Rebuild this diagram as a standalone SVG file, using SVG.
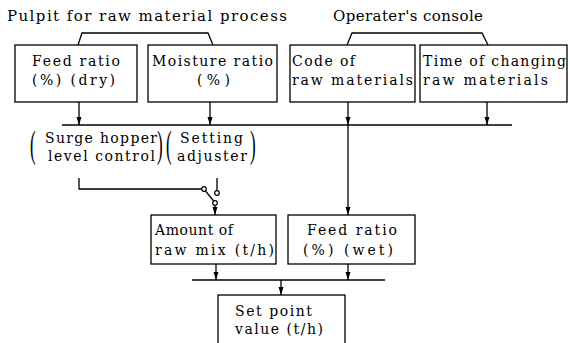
<svg xmlns="http://www.w3.org/2000/svg" width="570" height="343" viewBox="0 0 570 343">
<style>
  text { font-family: "DejaVu Serif", "Liberation Serif", serif; font-size: 14px; fill: #000; }
  .title { font-size: 15px; }
  .box { fill: #fff; stroke: #000; stroke-width: 1.3; }
  .ln { fill: none; stroke: #000; stroke-width: 1.3; }
  .bus { fill: none; stroke: #000; stroke-width: 1.6; }
  .sw { fill: #fff; stroke: #000; stroke-width: 1.2; }
  .paren { font-family: "Liberation Serif", serif; font-size: 38px; }
</style>
<defs>
  <marker id="ah" markerWidth="8" markerHeight="6" refX="8" refY="3" orient="auto" markerUnits="userSpaceOnUse" viewBox="0 0 8 6">
    <path d="M0,0.5 L8,3 L0,5.5 z" fill="#000"/>
  </marker>
</defs>

<g id="titles">
  <text class="title" x="7" y="21" textLength="280" lengthAdjust="spacing">Pulpit for raw material process</text>
  <text class="title" x="333" y="21" textLength="150" lengthAdjust="spacing">Operater's console</text>
</g>

<g id="node-feed-dry">
  <rect class="box" x="15" y="45" width="122" height="57"/>
  <text x="32" y="66" textLength="88" lengthAdjust="spacing">Feed ratio</text>
  <text x="32" y="85" textLength="83" lengthAdjust="spacing">(%) (dry)</text>
</g>
<g id="node-moisture">
  <rect class="box" x="148" y="45" width="129" height="57"/>
  <text x="152" y="66" textLength="121" lengthAdjust="spacing">Moisture ratio</text>
  <text x="197" y="85" textLength="33" lengthAdjust="spacing">(%)</text>
</g>
<g id="node-code">
  <rect class="box" x="290" y="45" width="125" height="57"/>
  <text x="292" y="66" textLength="63" lengthAdjust="spacing">Code of</text>
  <text x="292" y="85" textLength="121" lengthAdjust="spacing">raw materials</text>
</g>
<g id="node-time">
  <rect class="box" x="420" y="45" width="147" height="57"/>
  <text x="423" y="66" textLength="143" lengthAdjust="spacing">Time of changing</text>
  <text x="423" y="85" textLength="125" lengthAdjust="spacing">raw materials</text>
</g>

<g id="node-selector">
  <text class="paren" transform="translate(30,157) scale(0.45,1)">(</text>
  <text x="45" y="143" textLength="112" lengthAdjust="spacing">Surge hopper</text>
  <text x="48" y="161" textLength="107" lengthAdjust="spacing">level control</text>
  <text class="paren" transform="translate(157,157) scale(0.45,1)">)</text>
  <text class="paren" transform="translate(166,157) scale(0.45,1)">(</text>
  <text x="180" y="143" textLength="63" lengthAdjust="spacing">Setting</text>
  <text x="177" y="161" textLength="70" lengthAdjust="spacing">adjuster</text>
  <text class="paren" transform="translate(250,157) scale(0.45,1)">)</text>
</g>

<g id="node-amount">
  <rect class="box" x="151" y="215" width="125" height="49"/>
  <text x="155" y="235" textLength="78" lengthAdjust="spacing">Amount of</text>
  <text x="155" y="255" textLength="119" lengthAdjust="spacing">raw mix (t/h)</text>
</g>
<g id="node-feed-wet">
  <rect class="box" x="288" y="215" width="127" height="49"/>
  <text x="307" y="235" textLength="90" lengthAdjust="spacing">Feed ratio</text>
  <text x="303" y="255" textLength="90" lengthAdjust="spacing">(%) (wet)</text>
</g>
<g id="node-setpoint">
  <rect class="box" x="218" y="295" width="127" height="60"/>
  <text x="235" y="316" textLength="77" lengthAdjust="spacing">Set point</text>
  <text x="235" y="334" textLength="88" lengthAdjust="spacing">value (t/h)</text>
</g>

<g id="connectors">
  <polyline class="ln" points="78,45 82,33 208,33 213,45"/>
  <polyline class="ln" points="347,45 352,33 482,33 488,45"/>
  <line class="bus" x1="62" y1="125" x2="512" y2="125"/>
  <line class="ln" x1="79" y1="102" x2="79" y2="125" marker-end="url(#ah)"/>
  <line class="ln" x1="210" y1="102" x2="210" y2="125" marker-end="url(#ah)"/>
  <line class="ln" x1="348" y1="102" x2="348" y2="125" marker-end="url(#ah)"/>
  <line class="ln" x1="487" y1="102" x2="487" y2="125" marker-end="url(#ah)"/>
  <line class="ln" x1="348" y1="125" x2="348" y2="215" marker-end="url(#ah)"/>
  <polyline class="ln" points="79,178 79,189 201.7,189"/>
  <line class="ln" x1="217" y1="178" x2="217" y2="190.7"/>
  <line class="ln" x1="205.5" y1="191" x2="213.7" y2="201"/>
  <line class="ln" x1="215" y1="205.3" x2="215" y2="215" marker-end="url(#ah)"/>
  <circle class="sw" cx="204" cy="189" r="2.3"/>
  <circle class="sw" cx="217" cy="193" r="2.3"/>
  <circle class="sw" cx="215" cy="203" r="2.3"/>
  <line class="ln" x1="216" y1="264" x2="216" y2="280" marker-end="url(#ah)"/>
  <line class="ln" x1="348" y1="264" x2="348" y2="280" marker-end="url(#ah)"/>
  <line class="bus" x1="192" y1="280" x2="385" y2="280"/>
  <line class="ln" x1="281" y1="280" x2="281" y2="295" marker-end="url(#ah)"/>
</g>
</svg>
